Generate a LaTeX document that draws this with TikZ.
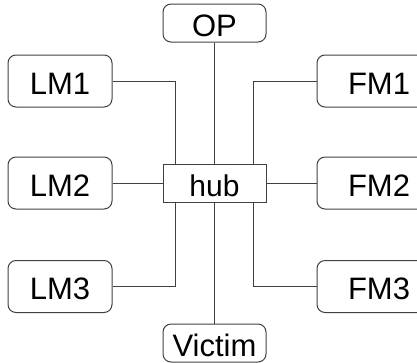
\documentclass[tikz,border=0pt]{standalone}
\usepackage{fontspec}
\setmainfont{Liberation Sans}
\begin{document}
\begin{tikzpicture}[x=1pt,y=-1pt,
  box/.style={draw=black!75,line width=1pt,rounded corners=8pt,inner sep=0pt,
    font=\fontsize{31}{31}\selectfont,text=black,text height=26.5pt,text depth=0pt},
  sidebox/.style={box,minimum width=104pt,minimum height=52pt},
  fmbox/.style={box,minimum width=124pt,minimum height=52pt},
  endbox/.style={box,minimum width=103pt,minimum height=38pt},
  hubbox/.style={draw=black!75,line width=1pt,inner sep=0pt,minimum width=103pt,
    minimum height=38pt,font=\fontsize{30}{30}\selectfont,text height=26pt,text depth=0pt},
  wire/.style={draw=black!75,line width=1pt}]
\useasboundingbox (0,0) rectangle (417,362);
\node[hubbox] (hub) at (214.5,183) {hub};
\node[endbox] (OP) at (214.5,23) {OP};
\node[endbox] (V) at (214.5,343) {Victim};
\node[sidebox] (LM1) at (60,81) {LM1};
\node[sidebox] (LM2) at (60,183) {LM2};
\node[sidebox] (LM3) at (60,286.5) {LM3};
\node[fmbox] (FM1) at (379,81) {FM1};
\node[fmbox] (FM2) at (379,183) {FM2};
\node[fmbox] (FM3) at (379,286.5) {FM3};
\draw[wire] (OP.south) -- (hub.north);
\draw[wire] (hub.south) -- (V.north);
\draw[wire] (LM2.east) -- (hub.west);
\draw[wire] (hub.east) -- (FM2.west);
\draw[wire] (LM1.east) -| ([xshift=13pt]hub.north west);
\draw[wire] (LM3.east) -| ([xshift=13pt]hub.south west);
\draw[wire] (FM1.west) -| ([xshift=-13pt]hub.north east);
\draw[wire] (FM3.west) -| ([xshift=-13pt]hub.south east);
\end{tikzpicture}
\end{document}
